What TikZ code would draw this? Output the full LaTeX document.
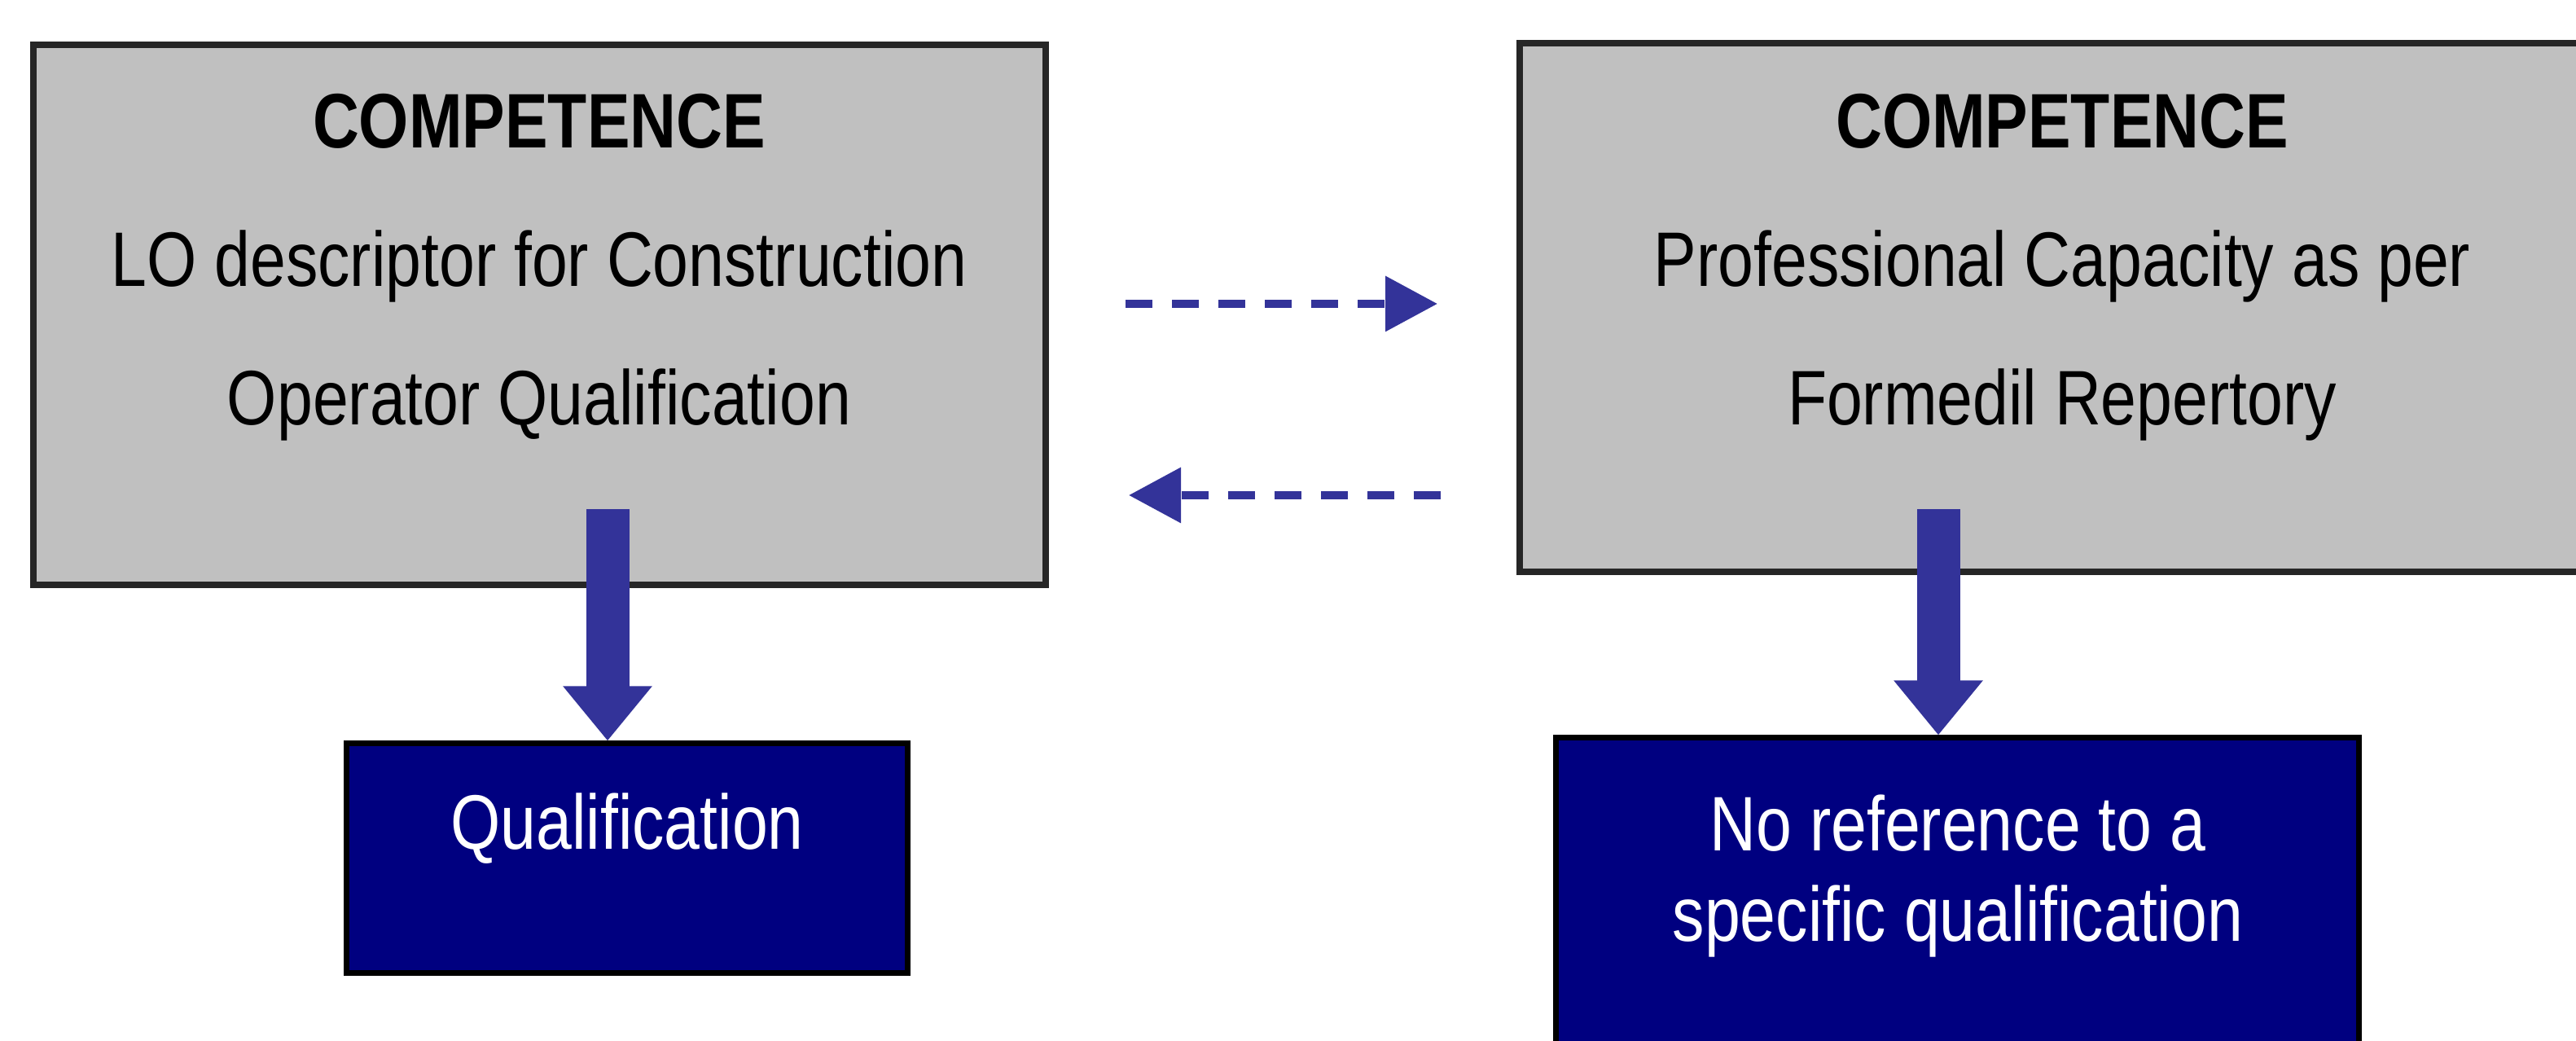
\documentclass[tikz,border=0pt]{standalone}
\usepackage{fontspec}
\setmainfont{Liberation Sans}[FakeStretch=0.83]
\usetikzlibrary{arrows.meta}
\definecolor{boxgray}{HTML}{C0C0C0}
\definecolor{qualnavy}{HTML}{000080}
\definecolor{arrowblue}{HTML}{333399}
\begin{document}
\begin{tikzpicture}[
  compbox/.style={rectangle, draw=black!85, line width=0.04cm, fill=boxgray},
  qualbox/.style={rectangle, draw=black, line width=0.035cm, fill=qualnavy},
  boxtext/.style={align=center, inner sep=0pt, anchor=north, font=\fontsize{13.5}{24.2}\selectfont},
  qualtext/.style={align=center, inner sep=0pt, anchor=north, text=white, font=\fontsize{13.5}{15.8}\selectfont},
  fatarrow/.style={arrowblue, line width=0.265cm, -{Triangle[width=0.525cm, length=0.335cm]}},
  dasharrow/.style={arrowblue, line width=0.05cm, dash pattern=on 0.165cm off 0.12cm, -{Triangle[width=0.33cm, length=0.32cm]}}]
  \useasboundingbox (0,0) rectangle (15.815,6.39);
  \node (lbox) [compbox, minimum width=6.215cm, minimum height=3.315cm] at (3.3125,4.4575) {};
  \node (rbox) [compbox, minimum width=6.67cm, minimum height=3.245cm] at (12.665,4.5025) {};
  \node (lqual) [qualbox, minimum width=3.445cm, minimum height=1.41cm] at (3.8475,1.12) {};
  \node (rnoref) [qualbox, minimum width=4.93cm, minimum height=2.1cm] at (12.015,0.81) {};
  \node (ltext) [boxtext] at (3.31,5.82) {\textbf{COMPETENCE}\\LO descriptor for Construction\\Operator Qualification};
  \node (rtext) [boxtext] at (12.66,5.82) {\textbf{COMPETENCE}\\Professional Capacity as per\\Formedil Repertory};
  \node (lqtext) [qualtext] at (3.85,1.53) {Qualification};
  \node (rqtext) [qualtext] at (12.02,1.52) {No reference to a\\specific qualification};
  \coordinate (lstem) at (3.73,3.265);
  \coordinate (rstem) at (11.9,3.265);
  \coordinate (fwdstart) at (6.91,4.525);
  \coordinate (fwdend) at (8.825,4.525);
  \coordinate (backstart) at (8.845,3.35);
  \coordinate (backend) at (6.93,3.35);
  \draw[fatarrow] (lstem) -- (lstem |- lqual.north);
  \draw[fatarrow] (rstem) -- (rstem |- rnoref.north);
  \draw[dasharrow] (fwdstart) -- (fwdend);
  \draw[dasharrow] (backstart) -- (backend);
\end{tikzpicture}
\end{document}
